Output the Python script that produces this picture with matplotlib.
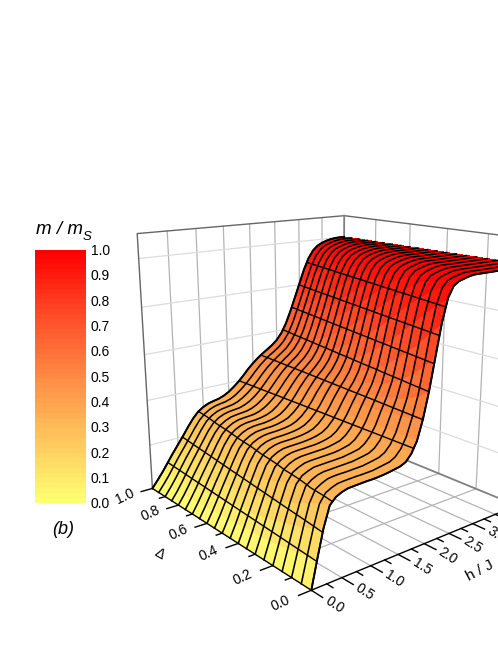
import numpy as np
import matplotlib
matplotlib.use('Agg')
import matplotlib.pyplot as plt
from matplotlib.colors import LinearSegmentedColormap
from mpl_toolkits.mplot3d import proj3d

plt.rcParams['font.family'] = ['Liberation Sans', 'DejaVu Sans']

h_vals = [0.0,0.1,0.2,0.3,0.4,0.5,0.6,0.7,0.8,0.9,1.0,1.1,1.2,1.3,1.4,1.5,1.6,1.7,1.8,1.9,
          2.0,2.1,2.2,2.3,2.4,2.5,2.6,2.7,2.8,2.9,3.0,3.1,3.2,3.3,3.4,3.5,3.6,3.7,3.8,3.9,4.0]
delta_vals = [0.0,0.05,0.1,0.15,0.2,0.25,0.3,0.35,0.4,0.45,0.5,0.55,0.6,0.65,0.7,0.75,0.8,0.85,0.9,0.95,1.0]
# m / m_s in thousandths: one row per delta, one column per h
m_rows = [
[0,110,214,290,313,324,330,331,332,333,333,334,336,339,343,347,357,382,425,501,602,725,845,931,971,985,991,997,1000,1000,1000,1000,1000,1000,1000,1000,1000,1000,1000,1000,1000],
[0,99,195,276,309,321,329,331,332,333,333,334,335,339,343,347,359,383,424,491,570,679,797,898,956,980,988,994,999,1000,1000,1000,1000,1000,1000,1000,1000,1000,1000,1000,1000],
[0,90,178,259,304,318,328,331,332,332,333,334,335,339,343,348,360,384,424,484,548,639,751,858,935,971,985,991,997,1000,1000,1000,1000,1000,1000,1000,1000,1000,1000,1000,1000],
[0,82,164,241,296,314,325,330,331,332,333,334,335,339,343,348,361,385,424,478,533,606,708,815,905,958,980,988,994,999,1000,1000,1000,1000,1000,1000,1000,1000,1000,1000,1000],
[0,75,152,225,285,311,322,330,331,332,333,334,335,339,343,348,362,386,423,474,522,580,670,773,870,938,971,984,991,997,1000,1000,1000,1000,1000,1000,1000,1000,1000,1000,1000],
[0,69,141,210,272,306,319,328,331,332,333,334,335,338,343,349,363,387,423,470,514,561,636,733,830,911,959,980,988,994,999,1000,1000,1000,1000,1000,1000,1000,1000,1000,1000],
[0,64,132,196,258,299,316,326,331,332,333,334,335,338,343,349,364,388,423,467,507,547,608,696,791,879,940,972,984,991,997,1000,1000,1000,1000,1000,1000,1000,1000,1000,1000],
[0,60,123,184,244,291,312,324,330,332,333,334,335,338,343,350,365,389,423,464,502,537,586,663,753,843,917,959,979,988,994,998,1000,1000,1000,1000,1000,1000,1000,1000,1000],
[0,56,116,174,231,281,308,321,329,331,332,333,335,338,343,351,366,390,423,462,498,529,569,634,718,806,887,943,972,984,991,996,1000,1000,1000,1000,1000,1000,1000,1000,1000],
[0,52,109,164,218,270,302,318,327,331,332,333,335,338,343,351,367,390,422,460,494,523,557,610,686,771,854,921,960,979,988,994,998,1000,1000,1000,1000,1000,1000,1000,1000],
[0,49,103,156,207,258,295,314,325,330,332,333,335,338,343,352,368,391,422,458,491,518,547,590,657,738,820,894,945,972,984,991,996,999,1000,1000,1000,1000,1000,1000,1000],
[0,46,97,148,197,246,287,310,322,329,332,333,335,338,343,353,369,392,422,457,487,514,539,575,632,707,786,864,925,961,979,988,994,998,1000,1000,1000,1000,1000,1000,1000],
[0,44,92,141,188,235,278,305,319,328,331,333,334,338,344,353,370,392,422,455,485,510,533,563,611,678,755,832,900,946,972,984,991,996,999,1000,1000,1000,1000,1000,1000],
[0,42,87,135,179,224,268,299,316,326,331,333,334,338,344,354,371,393,422,454,482,506,528,554,593,653,725,800,873,928,961,979,988,994,998,1000,1000,1000,1000,1000,1000],
[0,40,83,129,172,214,258,292,312,324,330,332,334,338,344,355,372,394,422,452,480,503,524,546,580,630,697,770,843,906,948,972,984,991,996,999,1000,1000,1000,1000,1000],
[0,38,79,123,165,205,247,284,307,321,329,332,334,337,344,356,373,394,422,451,478,500,520,540,568,611,672,741,812,880,931,962,979,988,994,998,1000,1000,1000,1000,1000],
[0,36,76,118,158,197,238,275,302,317,327,331,334,337,344,356,373,395,422,450,476,498,517,535,559,596,649,715,783,852,910,949,972,984,991,996,999,1000,1000,1000,1000],
[0,34,72,113,152,190,228,266,296,314,325,331,334,337,345,357,374,396,422,449,474,495,514,531,552,583,629,690,756,823,886,933,962,979,987,994,998,1000,1000,1000,1000],
[0,33,69,108,147,183,220,257,289,309,322,329,333,337,345,358,375,396,421,448,472,493,511,528,546,573,612,667,730,795,860,914,951,972,984,991,996,999,1000,1000,1000],
[0,32,66,104,141,176,212,248,281,304,319,328,333,337,345,358,376,397,421,447,471,491,509,524,541,564,598,646,706,769,833,892,936,963,979,987,994,998,1000,1000,1000],
[0,31,64,100,136,170,204,240,273,299,315,326,332,337,346,359,377,397,421,447,469,489,506,521,537,557,586,628,683,744,806,868,918,952,972,983,991,996,999,1000,1000],
]
h_major = [0.0,0.5,1.0,1.5,2.0,2.5,3.0,3.5,4.0]
h_minor = [0.25,0.75,1.25,1.75,2.25,2.75,3.25,3.75]
delta_major = [0.0,0.2,0.4,0.6,0.8,1.0]
delta_minor = [0.1,0.3,0.5,0.7,0.9]
z_grid = [0.2,0.4,0.6,0.8,1.0]
cbar_ticks = [0.0,0.1,0.2,0.3,0.4,0.5,0.6,0.7,0.8,0.9,1.0]
contour_levels = [0.1,0.2,0.3,0.4,0.5,0.6,0.7,0.8,0.9]

h_vals = np.array(h_vals)
delta_vals = np.array(delta_vals)
m_table = np.array(m_rows)/1000.0

cmap = LinearSegmentedColormap.from_list('yr',[(0,'#ffff73'),(.33,(1,178/255,85/255)),(.5,(1,138/255,68/255)),(.75,(1,75/255,40/255)),(1,'#ff0000')])

fig = plt.figure(figsize=(4.98,6.45),dpi=100)
W = 454.22
ax = fig.add_axes([97.22/498,39.72/645,W/498,W/645],projection='3d')
ax.set_xlim(0,4,view_margin=0)
ax.set_ylim(0,1,view_margin=0)
ax.set_zlim(0,1.1,view_margin=0)
ax.view_init(elev=15.9229,azim=-129.3367)
ax.set_proj_type('persp',focal_length=0.3599)
ax.set_box_aspect((0.984,1.0139,1.0))
ax.set_axis_off()
ax.computed_zorder = False

H,D = np.meshgrid(h_vals,delta_vals)
gc = '#b4b4b4'
gl = '#dcdcdc'
bc = '#666666'
# back walls and floor
for v in h_major[1:-1]:
    ax.plot([v,v],[0,1],[0,0],color=gc,lw=.9,zorder=1)
    ax.plot([v,v],[1,1],[0,1.1],color=gc,lw=.9,zorder=1)
for v in delta_major[1:-1]:
    ax.plot([0,4],[v,v],[0,0],color=gc,lw=.9,zorder=1)
    ax.plot([4,4],[v,v],[0,1.1],color=gc,lw=.9,zorder=1)
for v in z_grid:
    ax.plot([0,4],[1,1],[v,v],color=gl,lw=.9,zorder=1)
    ax.plot([4,4],[0,1],[v,v],color=gl,lw=.9,zorder=1)
ax.plot([0,0,4,4],[1,1,1,0],[0,1.1,1.1,1.1],color=bc,lw=1,zorder=1.5)
ax.plot([4,4,4],[1,1,0],[1.1,0,0],color='#808080',lw=1.3,zorder=1.5)

ax.plot_surface(H,D,m_table,rstride=1,cstride=1,cmap=cmap,vmin=0,vmax=1,shade=False,linewidth=0,antialiased=False,zorder=3)
for i,d in enumerate(delta_vals):
    ax.plot(h_vals,np.full_like(h_vals,d),m_table[i],color='k',lw=1.15,zorder=4)
ax.contour(H,D,m_table,levels=contour_levels,colors='k',linewidths=1.0,zorder=4)
ax.plot(h_vals,np.zeros_like(h_vals),m_table[0],color='k',lw=1.4,zorder=5)
ax.plot(h_vals,np.ones_like(h_vals),m_table[-1],color='k',lw=1.4,zorder=5)

# axes lines and ticks
ax.plot([0,4],[0,0],[0,0],color='k',lw=1,zorder=5)
ax.plot([0,0],[0,1],[0,0],color='k',lw=1,zorder=5)
for v in h_major:
    ax.plot([v,v],[0,-.055],[0,0],color='k',lw=1,zorder=5)
for v in h_minor:
    ax.plot([v,v],[0,-.03],[0,0],color='k',lw=1,zorder=5)
for v in delta_major:
    ax.plot([0,-.2],[v,v],[0,0],color='k',lw=1,zorder=5)
for v in delta_minor:
    ax.plot([0,-.1],[v,v],[0,0],color='k',lw=1,zorder=5)

def label3d(x,y,z,s,rot,size):
    a,b,_ = proj3d.proj_transform(x,y,z,ax.get_proj())
    ax.text2D(a,b,s,transform=ax.transData,rotation=rot,ha='center',va='center',fontsize=size,rotation_mode='anchor')

for v in h_major[:7]:
    label3d(v,-.11,0,f'{v:.1f}',-33,10)
for v in delta_major:
    label3d(-.48,v,0,f'{v:.1f}',25,10)
label3d(-1.0,.5,0,'Δ',-30,10)
label3d(2.01,-.245,0,'h / J',28,11)

# colour scale
cax = fig.add_axes([35/498,1-503/645,50/498,253.5/645])
cax.imshow(np.linspace(0,1,51)[:,None],origin='lower',aspect='auto',cmap=cmap,vmin=0,vmax=1,extent=[0,1,0,1],interpolation='nearest')
cax.set_xticks([])
cax.set_yticks(cbar_ticks)
cax.yaxis.tick_right()
cax.tick_params(axis='y',length=0,pad=4,labelsize=10)
for s in cax.spines.values():
    s.set_visible(False)

fig.text(36/498,1-229/645,'m / m',fontsize=13.5,va='center',style='italic')
fig.text(83/498,1-237/645,'S',fontsize=9.5,va='center',style='italic')
fig.text(63/498,1-529/645,'(b)',fontsize=13,ha='center',va='center',style='italic')
fig.savefig('out.png',dpi=100)
